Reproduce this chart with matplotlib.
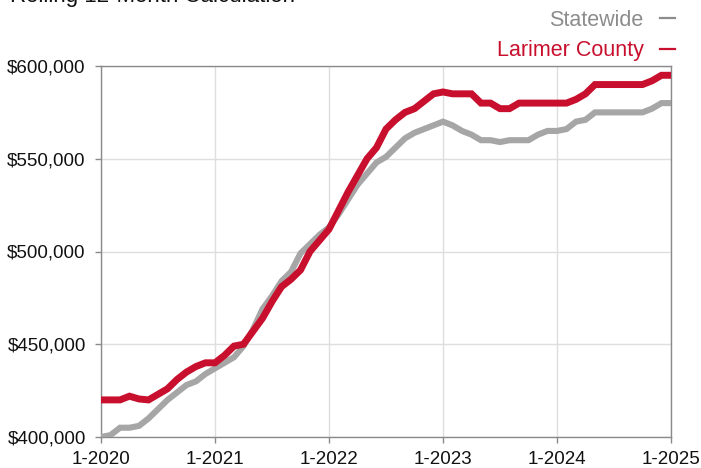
import numpy as np
import matplotlib
matplotlib.use("Agg")
import matplotlib.pyplot as plt

plt.rcParams['font.family'] = ['Liberation Sans', 'DejaVu Sans']

title = "Rolling 12-Month Calculation"
tick_labels = ["1-2020", "1-2021", "1-2022", "1-2023", "1-2024", "1-2025"]
series_names = ["Statewide", "Larimer County"]

# monthly values Jan 2020 .. Jan 2025 (61 points)
statewide = [
    400000, 401000, 405000, 405000, 406000, 410000, 415000, 420000, 424000, 428000, 430000, 434000,
    437000, 440000, 443000, 449000, 458000, 469000, 476000, 484000, 489000, 499000, 504000, 509000,
    513000, 520000, 528000, 536000, 542000, 548000, 551000, 556000, 561000, 564000, 566000, 568000,
    570000, 568000, 565000, 563000, 560000, 560000, 559000, 560000, 560000, 560000, 563000, 565000,
    565000, 566000, 570000, 571000, 575000, 575000, 575000, 575000, 575000, 575000, 577000, 580000,
    580000,
]
larimer = [
    420000, 420000, 420000, 422000, 420500, 420000, 423000, 426000, 431000, 435000, 438000, 440000,
    440000, 444000, 449000, 450000, 457000, 464000, 473000, 481000, 485000, 490000, 500000, 506000,
    512000, 522000, 532000, 541000, 550000, 556000, 566000, 571000, 575000, 577000, 581000, 585000,
    586000, 585000, 585000, 585000, 580000, 580000, 577000, 577000, 580000, 580000, 580000, 580000,
    580000, 580000, 582000, 585000, 590000, 590000, 590000, 590000, 590000, 590000, 592000, 595000,
    595000,
]

gray = "#a6a6a6"
gray_text = "#8c8c8c"
red = "#c8102e"

W, H = 701, 468
fig = plt.figure(figsize=(W / 100, H / 100), dpi=100)
ax = fig.add_axes([101 / W, 1 - 437 / H, (671 - 101) / W, (437 - 66) / H])

x = np.arange(len(statewide))
ax.plot(x, statewide, color=gray, lw=4.4, solid_joinstyle='miter', label=series_names[0], zorder=3)
ax.plot(x, larimer, color=red, lw=5.0, solid_joinstyle='miter', label=series_names[1], zorder=4)

ax.set_xlim(0, 60)
ax.set_ylim(400000, 600000)
ax.set_xticks(np.arange(0, 61, 12))
ax.set_xticklabels(tick_labels)
yt = np.arange(400000, 600001, 50000)
ax.set_yticks(yt)
ax.set_yticklabels([f"${v:,.0f}" for v in yt])

ax.grid(True, color="#dedede", lw=1.0, zorder=0)
ax.set_axisbelow(True)
for s in ax.spines.values():
    s.set_color("#8a8a8a")
    s.set_linewidth(1.0)
ax.tick_params(axis='both', colors="#8a8a8a", labelcolor="#111111", labelsize=13.5,
               length=4, width=1.0)
ax.tick_params(axis='y', pad=7)
ax.tick_params(axis='x', pad=6)

leg = ax.legend(loc='upper right', bbox_to_anchor=(675 / W, 1 - 10 / H), bbox_transform=fig.transFigure,
                frameon=False, markerfirst=False, fontsize=15.5, handlelength=0.7,
                handletextpad=0.75, labelspacing=0.42, borderpad=0, borderaxespad=0,
                labelcolor=[gray_text, red])
for h in leg.get_lines():
    h.set_linewidth(1.6)
leg.get_lines()[0].set_color("#8c8c8c")

fig.text(10 / W, 1 - 2 / H, title, fontsize=16, color="#111111", va='baseline', ha='left')

fig.savefig("out.png", dpi=100)
